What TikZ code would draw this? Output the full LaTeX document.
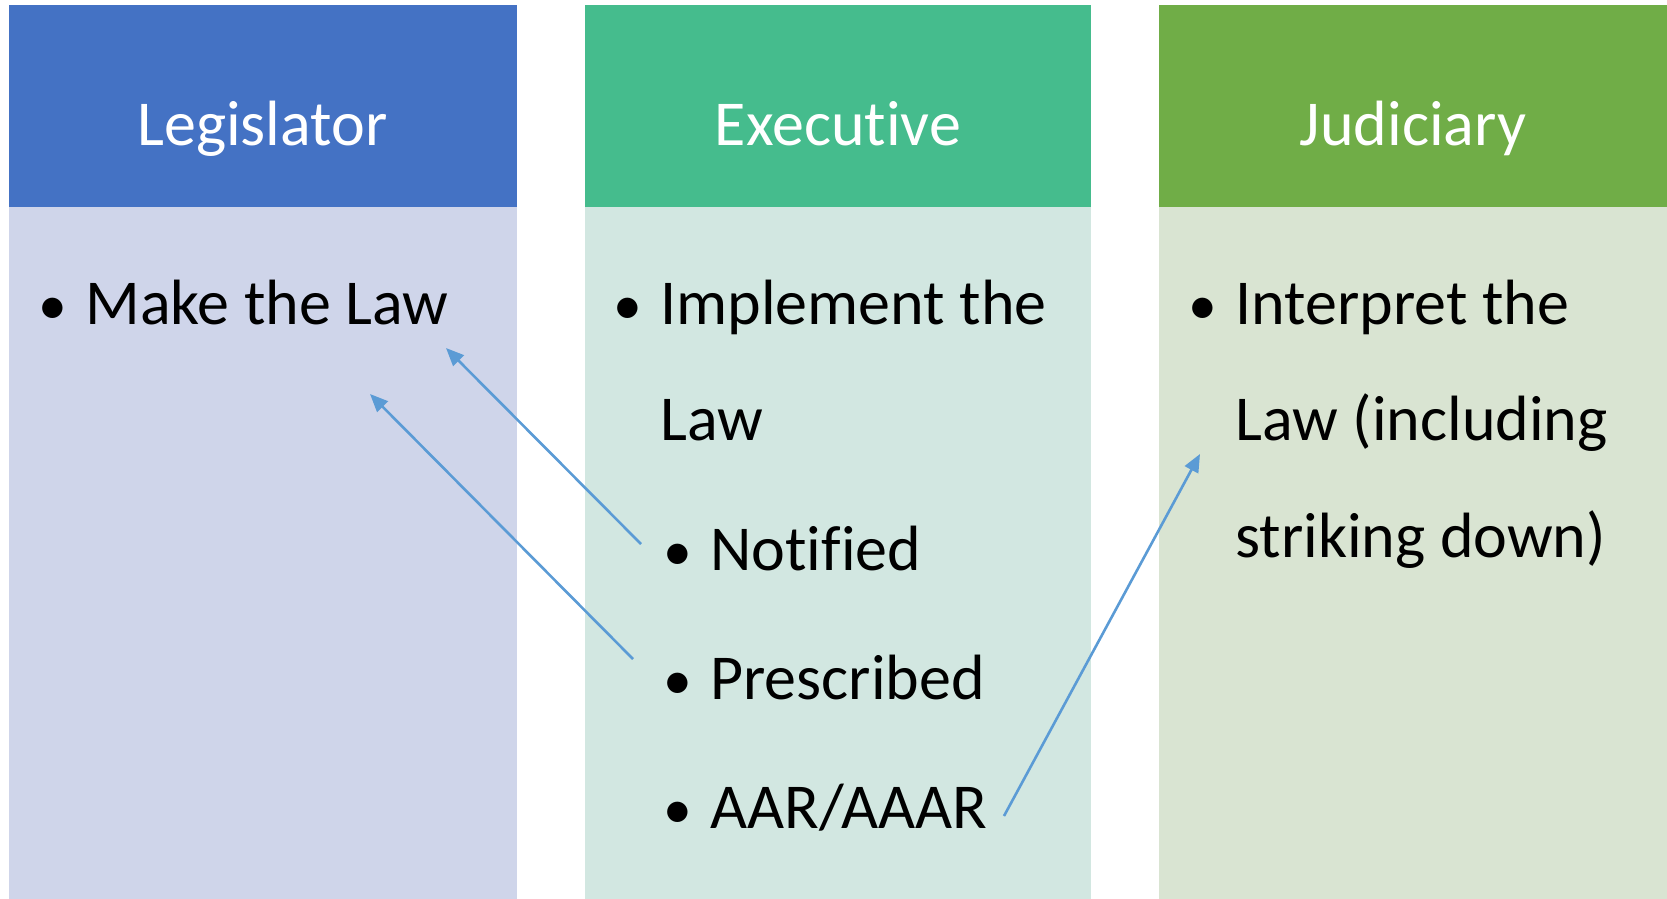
\documentclass[tikz,border=0pt]{standalone}
\usepackage{fontspec}
\setmainfont{Carlito}[Ligatures={NoCommon}]
\usetikzlibrary{arrows.meta}
\definecolor{hA}{HTML}{4472C4}
\definecolor{bA}{HTML}{CFD5EA}
\definecolor{hB}{HTML}{45BC8D}
\definecolor{bB}{HTML}{D2E7E1}
\definecolor{hC}{HTML}{70AD47}
\definecolor{bC}{HTML}{D9E4D2}
\definecolor{arr}{HTML}{5B9BD5}
\tikzset{
  head/.style={anchor=base, text=white, font=\fontsize{32}{40}\selectfont, inner sep=0pt},
  item/.style={anchor=base west, text=black, font=\fontsize{32}{40}\selectfont, inner sep=0pt},
  link/.style={draw=arr, line width=1.3pt, -{Triangle[length=9pt,width=7.5pt]}},
}
\newcommand{\bul}{\llap{\makebox[23.5pt][l]{\scalebox{0.9}{•}}}}
\begin{document}
\begin{tikzpicture}[x=0.5pt,y=-0.5pt]
\useasboundingbox (0,0) rectangle (1667,899);
% columns
\fill[hA] (8.5,5) rectangle (516.5,207);
\fill[bA] (8.5,207) rectangle (516.5,899);
\fill[hB] (585,5) rectangle (1091,207);
\fill[bB] (585,207) rectangle (1091,899);
\fill[hC] (1159,5) rectangle (1667,207);
\fill[bC] (1159,207) rectangle (1667,899);
% headers
\node[head] (hleg) at (262.5,146) {Legislator};
\node[head] (hexe) at (838,146) {Executive};
\node[head] (hjud) at (1413,146) {Judiciary};
% items
\node[item] (make) at (85,324) {\bul Make the Law};
\node[item] (impl) at (660,324) {\bul Implement the};
\node[item] (impl2) at (660,440) {Law};
\node[item] (noti) at (710,570) {\bul Notified};
\node[item] (pres) at (710,699) {\bul Prescribed};
\node[item] (aar) at (710,828) {\bul AAR/AAAR};
\node[item] (intp) at (1235,324) {\bul Interpret the};
\node[item] (intp2) at (1235,440) {Law (including};
\node[item] (intp3) at (1235,557) {striking down)};
% connector ends
\coordinate (t1) at (641,544);
\coordinate (e1) at (446,348);
\coordinate (t2) at (633,659);
\coordinate (e2) at (370,394);
\coordinate (t3) at (1004,816);
\coordinate (e3) at (1200,454);
\draw[link] (t1) -- (e1);
\draw[link] (t2) -- (e2);
\draw[link] (t3) -- (e3);
\end{tikzpicture}
\end{document}
